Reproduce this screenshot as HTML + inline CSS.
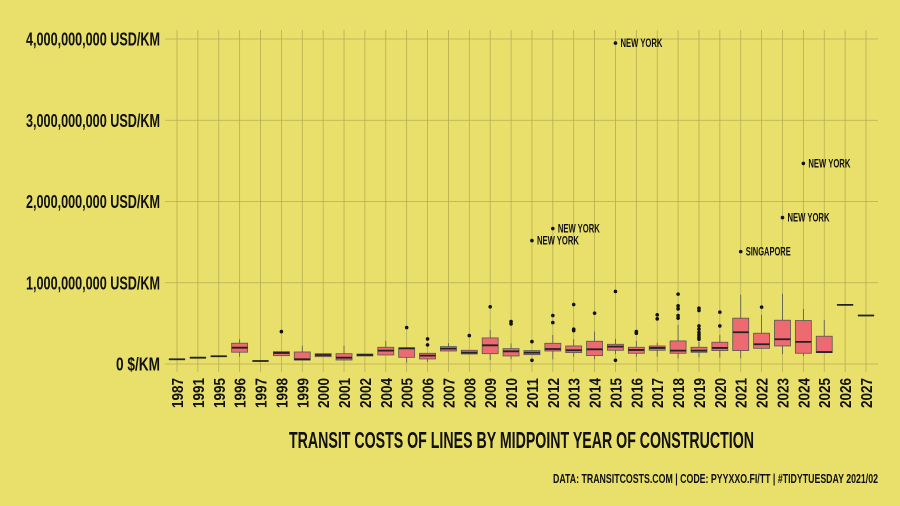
<!DOCTYPE html>
<html><head><meta charset="utf-8"><style>
body{margin:0;background:#e9e06c;}
svg{display:block;font-family:"Liberation Sans Narrow","Liberation Sans",sans-serif;font-weight:bold;}
</style></head><body>
<svg id="chart" width="900" height="506" viewBox="0 0 900 506">
<rect width="900" height="506" fill="#e9e06c"/>
<g id="grid"></g><g id="marks"></g><g id="axes"></g>
<text x="289" y="448" textLength="465" lengthAdjust="spacingAndGlyphs" font-size="23" fill="#111">TRANSIT COSTS OF LINES BY MIDPOINT YEAR OF CONSTRUCTION</text>
<text x="553" y="483" textLength="325" lengthAdjust="spacingAndGlyphs" font-size="12.5" fill="#111">DATA: TRANSITCOSTS.COM  |  CODE: PYYXXO.FI/TT  |  #TIDYTUESDAY 2021/02</text>
</svg>
<script>
const years=["1987","1991","1995","1996","1997","1998","1999","2000","2001","2002","2004","2005","2006","2007","2008","2009","2010","2011","2012","2013","2014","2015","2016","2017","2018","2019","2020","2021","2022","2023","2024","2025","2026","2027"];
// values in millions USD/km: [low whisker, q1, median, q3, high whisker]
const boxStats=[
[58,58,58,58,58],[78,78,78,78,78],[95,95,95,95,95],[90,145,201,256,305],[37,37,37,37,37],
[102,102,136,152,152],[49,49,58,148,226],[90,90,111,127,127],[49,49,78,127,226],[99,99,111,123,123],
[111,111,165,206,284],[16,82,193,198,198],[25,62,103,132,132],[160,160,189,214,255],[123,123,140,169,169],
[49,127,230,321,420],[58,99,156,189,255],[115,115,140,165,165],[58,160,185,255,358],[90,140,169,222,305],
[58,103,181,280,399],[123,169,214,243,309],[90,132,173,206,284],[90,169,198,222,263],[70,132,165,284,481],
[82,144,165,206,275],[78,165,198,268,358],[70,165,391,564,852],[193,193,243,379,605],[123,222,305,539,864],
[99,132,272,535,679],[140,140,148,342,543],[728,728,728,728,728],[597,597,597,597,597]];
const outlierYears=["1998","2005","2006","2006","2008","2009","2010","2010","2011","2011","2012","2012","2013","2013","2013","2014","2015","2015","2016","2016","2017","2017","2018","2018","2018","2018","2018","2019","2019","2019","2019","2019","2019","2019","2019","2020","2020","2022","2011","2012","2015","2021","2023","2024"];
const outlierValues=[399,449,309,235,350,704,522,494,276,46,597,510,732,428,411,626,893,46,399,379,605,556,860,716,679,597,564,687,658,469,428,387,358,329,305,638,469,700,1519,1667,3950,1383,1802,2469];
const outlierLabels=["","","","","","","","","","","","","","","","","","","","","","","","","","","","","","","","","","","","","","","NEW YORK","NEW YORK","NEW YORK","SINGAPORE","NEW YORK","NEW YORK"];
const yTicks=[0,1000,2000,3000,4000];
const yTickLabels=["0 $/KM","1,000,000,000 USD/KM","2,000,000,000 USD/KM","3,000,000,000 USD/KM","4,000,000,000 USD/KM"];

const NS="http://www.w3.org/2000/svg";
const x0=177,x1=866,yZero=364,pxPerM=0.08125,L=165,R=878;
function xs(y){return x0+years.indexOf(y)*(x1-x0)/(years.length-1);}
function ys(v){return yZero-v*pxPerM;}
function mk(tag,attrs,parent){const e=document.createElementNS(NS,tag);for(const k in attrs)e.setAttribute(k,attrs[k]);parent.appendChild(e);return e;}
const grid=document.getElementById('grid'),marks=document.getElementById('marks'),axes=document.getElementById('axes');
yTicks.forEach((t,i)=>{
 const l=mk('line',{x1:L,x2:R,y1:ys(t),y2:ys(t),stroke:'#b5ad50','stroke-width':0.8},grid);
 
 
 const len=i===0?44:134;
 const tx=mk('text',{x:160-len,y:ys(t)+6.5,textLength:len,lengthAdjust:'spacingAndGlyphs','font-size':18,fill:'#111'},axes);
 tx.textContent=yTickLabels[i];
 
 
});
years.forEach(y=>{
 const l=mk('line',{x1:xs(y),x2:xs(y),y1:30,y2:372,stroke:'#b5ad50','stroke-width':0.8},grid);
 
 
 const tx=mk('text',{x:-30,y:0,textLength:30,lengthAdjust:'spacingAndGlyphs','font-size':16,fill:'#111',transform:`translate(${xs(y)+6},378) rotate(-90)`},axes);
 tx.textContent=y;
 
 
});
boxStats.forEach((s,i)=>{
 const cx=xs(years[i]),w=16;
 const g=mk('g',{},marks);
 
 
 mk('line',{x1:cx,x2:cx,y1:ys(s[0]),y2:ys(s[4]),stroke:'#555','stroke-width':0.8},g);
 mk('rect',{x:cx-w/2,y:ys(s[3]),width:w,height:Math.max(ys(s[1])-ys(s[3]),0.1),fill:'#ec6a70',stroke:'#555','stroke-width':0.8},g);
 mk('line',{x1:cx-w/2,x2:cx+w/2,y1:ys(s[2]),y2:ys(s[2]),stroke:'#222','stroke-width':1.8},g);
});
outlierValues.forEach((v,i)=>{
 const cx=xs(outlierYears[i]);
 const c=mk('circle',{cx:cx,cy:ys(v),r:1.8,fill:'#111'},marks);
 
 
 if(outlierLabels[i]){
  const len=outlierLabels[i]==='SINGAPORE'?45:42;
  const t=mk('text',{x:cx+5,y:ys(v)+4,textLength:len,lengthAdjust:'spacingAndGlyphs','font-size':12,fill:'#111'},marks);
  t.textContent=outlierLabels[i];
  
  
 }
});
</script>
</body></html>
